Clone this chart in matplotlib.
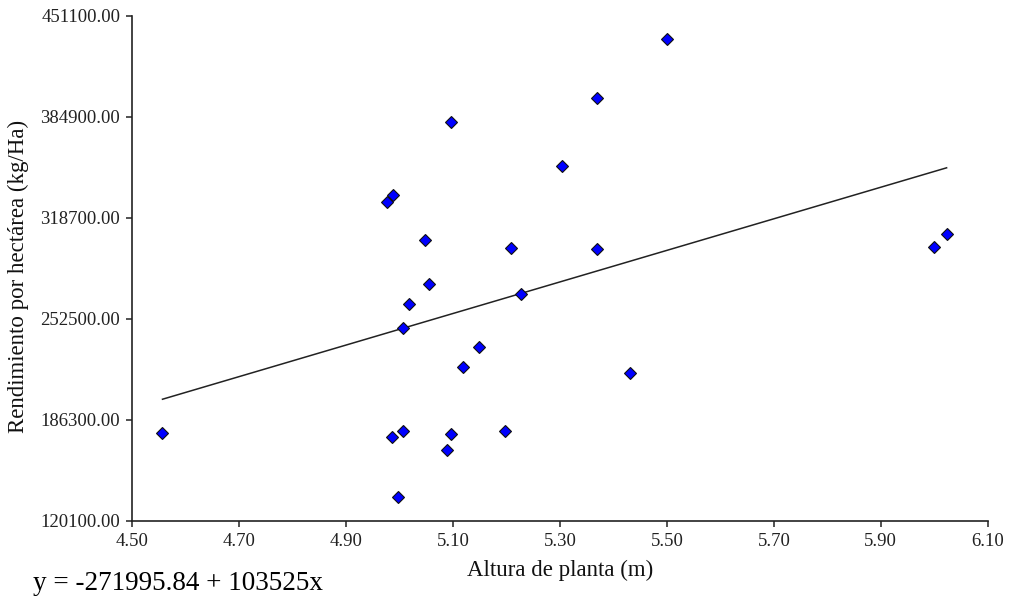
import matplotlib
matplotlib.use("Agg")
import matplotlib.pyplot as plt
import numpy as np

# Data
altura = [4.557, 4.976, 4.988, 4.987, 5.007, 4.998, 5.0065, 5.018, 5.048, 5.056,
          5.088, 5.096, 5.097, 5.118, 5.149, 5.198, 5.208, 5.227, 5.304, 5.370,
          5.370, 5.431, 5.500, 5.999, 6.023]
rendimiento = [177800, 328900, 333700, 174800, 178900, 135800, 246700, 262000, 304000, 275300,
               166300, 381600, 177000, 220900, 234200, 178900, 299100, 268800, 352900, 397100,
               298300, 217000, 436200, 299400, 307900]
intercept = -271995.84
slope = 103525
x_ticks = [4.50, 4.70, 4.90, 5.10, 5.30, 5.50, 5.70, 5.90, 6.10]
y_ticks = [120100, 186300, 252500, 318700, 384900, 451100]

plt.rcParams['font.family'] = ['Liberation Serif', 'DejaVu Serif']

fig = plt.figure(figsize=(10.10, 5.99), dpi=100)
ax = fig.add_axes([0.1307, 0.1307, 0.978 - 0.1307, 0.9733 - 0.1307])

xs = np.array([min(altura), max(altura)])
ax.plot(xs, intercept + slope * xs, color='#222222', lw=1.1, zorder=2)
ax.plot(altura, rendimiento, linestyle='none', marker='D', markersize=6.3,
        markerfacecolor='#0000ff', markeredgecolor='#101010', markeredgewidth=0.8, zorder=3)

ax.set_xlim(4.5, 6.1)
ax.set_ylim(120100, 451100)
ax.set_xticks(x_ticks)
ax.set_xticklabels([f"{v:.2f}" for v in x_ticks])
ax.set_yticks(y_ticks)
ax.set_yticklabels([f"{v:.2f}" for v in y_ticks])
ax.spines['top'].set_visible(False)
ax.spines['right'].set_visible(False)
for s in ['left', 'bottom']:
    ax.spines[s].set_linewidth(1.2)
    ax.spines[s].set_color('#222222')
ax.tick_params(axis='both', direction='out', length=4, width=1.1, color='#222222',
               labelsize=13.5, labelcolor='#222222')
ax.tick_params(axis='y', pad=4.5)
ax.tick_params(axis='x', pad=4.5)

fig.text(0.5545, 1 - 570 / 599, 'Altura de planta (m)', ha='center', va='center', fontsize=16.5, color='#111111')
fig.text(18 / 1010, 1 - 276 / 599, 'Rendimiento por hectárea (kg/Ha)', ha='center', va='center',
         rotation=90, fontsize=16.5, color='#111111')
fig.text(33 / 1010, 1 - 583 / 599, 'y = -271995.84 + 103525x', ha='left', va='center', fontsize=19.5, color='#000000')

fig.savefig('out.png', dpi=100)
